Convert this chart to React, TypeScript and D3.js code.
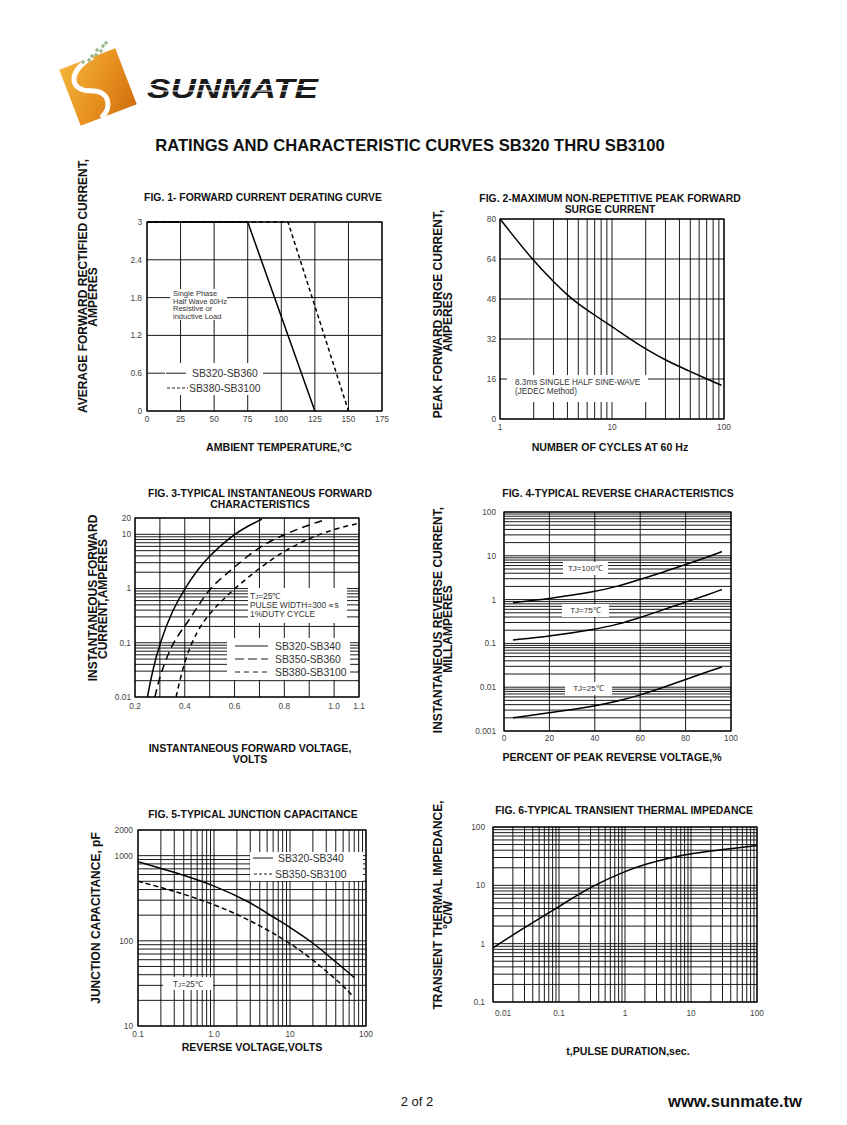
import * as d3 from 'd3';

const FONT = '"Liberation Sans", Arial, Helvetica, sans-serif';

type Pt = [number, number];
type Box = { left: number; right: number; top: number; bottom: number };

// FIG. 1 forward current derating
const f1TempTicks = [0, 25, 50, 75, 100, 125, 150, 175];
const f1AmpTicks = ['0', '0.6', '1.2', '1.8', '2.4', '3'];
const f1Sb320: Pt[] = [[0, 3], [75, 3], [125, 0]];
const f1Sb380: Pt[] = [[0, 3], [105, 3], [150, 0]];

// FIG. 2 peak forward surge current
const f2CycleLabels = ['1', '10', '100'];
const f2AmpTicks = ['0', '16', '32', '48', '64', '80'];
const f2Surge: Pt[] = [
  [1, 80], [2, 63], [3, 55], [4, 49.5], [5, 46], [7, 41.5], [10, 37], [15, 31.5],
  [20, 28], [30, 23.5], [50, 19], [70, 16], [95, 13.5],
];

// FIG. 3 instantaneous forward characteristics
const f3VoltTicks = [0.2, 0.3, 0.4, 0.5, 0.6, 0.7, 0.8, 0.9, 1.0, 1.1];
const f3VoltLabels = ['0.2', '0.4', '0.6', '0.8', '1.0', '1.1'];
const f3AmpLabels = ['0.01', '0.1', '1', '10', '20'];
const f3Sb320: Pt[] = [
  [0.25, 0.01], [0.27, 0.03], [0.3, 0.1], [0.35, 0.4], [0.4, 1], [0.45, 2.2],
  [0.5, 4], [0.55, 6.5], [0.6, 10], [0.65, 14], [0.71, 19],
];
const f3Sb350: Pt[] = [
  [0.28, 0.01], [0.3, 0.025], [0.35, 0.1], [0.4, 0.2], [0.45, 0.45], [0.5, 1],
  [0.55, 1.6], [0.6, 2.5], [0.7, 6], [0.8, 10], [0.9, 15], [0.97, 19],
];
const f3Sb380: Pt[] = [
  [0.365, 0.01], [0.4, 0.05], [0.45, 0.17], [0.5, 0.35], [0.55, 0.6], [0.6, 1],
  [0.7, 2.4], [0.8, 5], [0.9, 8.5], [1.0, 12.5], [1.1, 16],
];

// FIG. 4 reverse characteristics
const f4PctTicks = ['0', '20', '40', '60', '80', '100'];
const f4CurrLabels = ['0.001', '0.01', '0.1', '1', '10', '100'];
const f4Tj100: Pt[] = [[4, 0.85], [20, 1.05], [40, 1.5], [50, 2.0], [60, 2.9], [70, 4.2], [80, 6.3], [90, 9.5], [96, 12.5]];
const f4Tj75: Pt[] = [[4, 0.12], [20, 0.145], [40, 0.21], [50, 0.27], [60, 0.39], [70, 0.58], [80, 0.88], [90, 1.3], [96, 1.7]];
const f4Tj25: Pt[] = [[4, 0.002], [20, 0.0026], [40, 0.0037], [50, 0.0048], [60, 0.0066], [70, 0.0098], [80, 0.015], [90, 0.023], [96, 0.029]];

// FIG. 5 junction capacitance
const f5VoltLabels = ['0.1', '1.0', '10', '100'];
const f5CapLabels = ['10', '100', '1000', '2000'];
const f5Sb320: Pt[] = [[0.1, 850], [0.3, 640], [1, 450], [3, 285], [6, 190], [10, 145], [20, 95], [30, 70], [50, 48], [70, 37]];
const f5Sb350: Pt[] = [[0.1, 500], [0.3, 385], [1, 270], [3, 175], [10, 95], [20, 60], [50, 30], [65, 23]];

// FIG. 6 transient thermal impedance
const f6TimeLabels = ['0.01', '0.1', '1', '10', '100'];
const f6ImpLabels = ['0.1', '1', '10', '100'];
const f6Imp: Pt[] = [[0.01, 0.85], [0.03, 1.9], [0.1, 4.3], [0.3, 9.5], [1, 17.5], [2, 23], [5, 30], [10, 35], [30, 41], [100, 48]];

const TICK = 8.3;

const Grid = ({ box, xs, ys }: { box: Box; xs: number[]; ys: number[] }) => (
  <g stroke="#000" strokeWidth={0.9} fill="none">
    {xs.map((x, i) => <line key={'v' + i} x1={x} x2={x} y1={box.top} y2={box.bottom} />)}
    {ys.map((y, i) => <line key={'h' + i} x1={box.left} x2={box.right} y1={y} y2={y} />)}
    <rect x={box.left} y={box.top} width={box.right - box.left} height={box.bottom - box.top} strokeWidth={1.2} />
  </g>
);

const Curve = ({ pts, sx, sy, dash, linear }: { pts: Pt[]; sx: any; sy: any; dash?: string; linear?: boolean }) => {
  const gen = d3.line<Pt>()
    .x(d => sx(d[0]))
    .y(d => sy(d[1]))
    .curve(linear ? d3.curveLinear : d3.curveBasis);
  return <path d={gen(pts) || ''} fill="none" stroke="#000" strokeWidth={1.5} strokeDasharray={dash} />;
};

const YLabels = ({ labels, sy, x }: { labels: string[]; sy: any; x: number }) => (
  <g fontSize={TICK} fill="#444" textAnchor="end">
    {labels.map(l => <text key={l} x={x} y={sy(+l)} dy="0.35em">{l}</text>)}
  </g>
);

const XLabels = ({ labels, sx, y, firstStart }: { labels: string[]; sx: any; y: number; firstStart?: boolean }) => (
  <g fontSize={TICK} fill="#444" textAnchor="middle">
    {labels.map((l, i) => (
      <text key={l} x={sx(+l) + (firstStart && i === 0 ? 2 : 0)} y={y}
        textAnchor={firstStart && i === 0 ? 'start' : 'middle'}>{l}</text>
    ))}
  </g>
);

const Bold = ({ x, y, size = 10.6, children }: { x: number; y: number; size?: number; children: any }) => (
  <text x={x} y={y} fontSize={size} fontWeight="bold" textAnchor="middle" fill="#111">{children}</text>
);

const VTitle = ({ x, y, size = 12, children }: { x: number; y: number; size?: number; children: any }) => (
  <text transform={`translate(${x},${y}) rotate(-90)`} fontSize={size} fontWeight="bold" textAnchor="middle" fill="#111">{children}</text>
);

const Mask = ({ x, y, w, h }: { x: number; y: number; w: number; h: number }) => (
  <rect x={x} y={y} width={w} height={h} fill="#fff" />
);

const FIGT = 10.4;

function Fig1() {
  const box = { left: 147, right: 382, top: 222, bottom: 411 };
  const sx = d3.scaleLinear().domain([0, 175]).range([box.left, box.right]);
  const sy = d3.scaleLinear().domain([0, 3]).range([box.bottom, box.top]);
  return (
    <g>
      <Bold x={263} y={201} size={FIGT}>FIG. 1- FORWARD CURRENT DERATING CURVE</Bold>
      <Grid box={box} xs={f1TempTicks.map(sx)} ys={f1AmpTicks.map(v => sy(+v))} />
      <Mask x={170} y={289} w={57} h={31} />
      <g fontSize={7.5} fill="#333">
        <text x={173} y={296}>Single Phase</text>
        <text x={173} y={303.5}>Half Wave 60Hz</text>
        <text x={173} y={311}>Resistive or</text>
        <text x={173} y={318.5}>inductive Load</text>
      </g>
      <Mask x={165} y={363} w={98} h={32} />
      <line x1={166} x2={186} y1={sy(0.6)} y2={sy(0.6)} stroke="#000" strokeWidth={0.9} />
      <line x1={167} x2={188} y1={388} y2={388} stroke="#000" strokeWidth={0.9} strokeDasharray="3,2" />
      <g fontSize={10.4} fill="#333">
        <text x={192} y={sy(0.6) + 3.8}>SB320-SB360</text>
        <text x={189} y={391.8}>SB380-SB3100</text>
      </g>
      <Curve pts={f1Sb380} sx={sx} sy={sy} dash="4,3" linear />
      <Curve pts={f1Sb320} sx={sx} sy={sy} linear />
      <YLabels labels={f1AmpTicks} sy={sy} x={box.left - 5} />
      <XLabels labels={f1TempTicks.map(String)} sx={sx} y={422} />
      <Bold x={279} y={451}>AMBIENT TEMPERATURE,°C</Bold>
      <VTitle x={87} y={286}>AVERAGE FORWARD RECTIFIED CURRENT,</VTitle>
      <VTitle x={97} y={297}>AMPERES</VTitle>
    </g>
  );
}

function Fig2() {
  const box = { left: 500, right: 724, top: 219, bottom: 419 };
  const sx = d3.scaleLog().domain([1, 100]).range([box.left, box.right]);
  const sy = d3.scaleLinear().domain([0, 80]).range([box.bottom, box.top]);
  return (
    <g>
      <Bold x={610} y={202} size={FIGT}>FIG. 2-MAXIMUM NON-REPETITIVE PEAK FORWARD</Bold>
      <Bold x={610} y={212.5} size={FIGT}>SURGE CURRENT</Bold>
      <Grid box={box} xs={sx.ticks().map(sx)} ys={f2AmpTicks.map(v => sy(+v))} />
      <Mask x={507} y={375} w={141} h={27} />
      <g fontSize={8.2} fill="#333">
        <text x={515} y={385}>8.3ms SINGLE HALF SINE-WAVE</text>
        <text x={515} y={394}>(JEDEC Method)</text>
      </g>
      <Curve pts={f2Surge} sx={sx} sy={sy} />
      <YLabels labels={f2AmpTicks} sy={sy} x={box.left - 4} />
      <XLabels labels={f2CycleLabels} sx={sx} y={430} />
      <Bold x={610} y={451}>NUMBER OF CYCLES AT 60 Hz</Bold>
      <VTitle x={442} y={314}>PEAK  FORWARD SURGE CURRENT,</VTitle>
      <VTitle x={452} y={322}>AMPERES</VTitle>
    </g>
  );
}

function Fig3() {
  const box = { left: 135, right: 359, top: 518, bottom: 697 };
  const sx = d3.scaleLinear().domain([0.2, 1.1]).range([box.left, box.right]);
  const sy = d3.scaleLog().domain([0.01, 20]).range([box.bottom, box.top]);
  return (
    <g>
      <Bold x={260} y={497} size={FIGT}>FIG. 3-TYPICAL INSTANTANEOUS FORWARD</Bold>
      <Bold x={260} y={508} size={FIGT}>CHARACTERISTICS</Bold>
      <Grid box={box} xs={f3VoltTicks.map(sx)} ys={sy.ticks().map(sy)} />
      <Mask x={248} y={588} w={99} h={35} />
      <g fontSize={8.4} fill="#333">
        <text x={250} y={599}>T<tspan fontSize={6}>J</tspan>=25℃</text>
        <text x={250} y={608}>PULSE WIDTH=300 ∝s</text>
        <text x={250} y={617}>1%DUTY CYCLE</text>
      </g>
      <Mask x={227} y={638} w={123} h={42} />
      <Mask x={350} y={665} w={8} h={12} />
      <g stroke="#000" strokeWidth={0.9}>
        <line x1={235} x2={268} y1={646} y2={646} />
        <line x1={235} x2={268} y1={659} y2={659} strokeDasharray="9,4" />
        <line x1={235} x2={268} y1={672} y2={672} strokeDasharray="5,4" />
      </g>
      <g fontSize={10.4} fill="#333">
        <text x={275} y={649.8}>SB320-SB340</text>
        <text x={275} y={662.8}>SB350-SB360</text>
        <text x={275} y={675.8}>SB380-SB3100</text>
      </g>
      <line x1={350} x2={359} y1={672} y2={672} stroke="#000" strokeWidth={0.9} />
      <Curve pts={f3Sb380} sx={sx} sy={sy} dash="5,4" />
      <Curve pts={f3Sb350} sx={sx} sy={sy} dash="8,5" />
      <Curve pts={f3Sb320} sx={sx} sy={sy} />
      <YLabels labels={f3AmpLabels} sy={sy} x={box.left - 4} />
      <XLabels labels={f3VoltLabels} sx={sx} y={709} />
      <Bold x={250} y={752}>INSTANTANEOUS FORWARD VOLTAGE,</Bold>
      <Bold x={250} y={763}>VOLTS</Bold>
      <VTitle x={97} y={598}>INSTANTANEOUS FORWARD</VTitle>
      <VTitle x={107} y={599}>CURRENT,AMPERES</VTitle>
    </g>
  );
}

function Fig4() {
  const box = { left: 504, right: 731, top: 512, bottom: 731 };
  const sx = d3.scaleLinear().domain([0, 100]).range([box.left, box.right]);
  const sy = d3.scaleLog().domain([0.001, 100]).range([box.bottom, box.top]);
  const tag = (x: number, y: number, w: number, label: string) => (
    <g>
      <Mask x={x} y={y} w={w} h={13} />
      <text x={x + w / 2} y={y + 9.3} fontSize={8.1} fill="#333" textAnchor="middle">{label}</text>
    </g>
  );
  return (
    <g>
      <Bold x={618} y={497} size={FIGT}>FIG. 4-TYPICAL REVERSE CHARACTERISTICS</Bold>
      <Grid box={box} xs={f4PctTicks.map(v => sx(+v))} ys={sy.ticks().map(sy)} />
      {tag(563, 562, 45, 'TJ=100℃')}
      {tag(562, 604, 47, 'TJ=75℃')}
      {tag(565, 682, 47, 'TJ=25℃')}
      <Curve pts={f4Tj100} sx={sx} sy={sy} />
      <Curve pts={f4Tj75} sx={sx} sy={sy} />
      <Curve pts={f4Tj25} sx={sx} sy={sy} />
      <YLabels labels={f4CurrLabels} sy={sy} x={box.left - 8} />
      <XLabels labels={f4PctTicks} sx={sx} y={741} />
      <Bold x={612} y={761}>PERCENT OF PEAK REVERSE VOLTAGE,%</Bold>
      <VTitle x={442} y={620}>INSTANTANEOUS REVERSE CURRENT,</VTitle>
      <VTitle x={452} y={629}>MILLAMPERES</VTitle>
    </g>
  );
}

function Fig5() {
  const box = { left: 138, right: 366, top: 830, bottom: 1026 };
  const sx = d3.scaleLog().domain([0.1, 100]).range([box.left, box.right]);
  const sy = d3.scaleLog().domain([10, 2000]).range([box.bottom, box.top]);
  return (
    <g>
      <Bold x={253} y={818} size={FIGT}>FIG. 5-TYPICAL JUNCTION CAPACITANCE</Bold>
      <Grid box={box} xs={sx.ticks().map(sx)} ys={sy.ticks().map(sy)} />
      <Mask x={250} y={852} w={113} h={29} />
      <line x1={253} x2={273} y1={858} y2={858} stroke="#000" strokeWidth={0.9} />
      <line x1={254} x2={274} y1={874} y2={874} stroke="#000" strokeWidth={0.9} strokeDasharray="3,2" />
      <g fontSize={10.4} fill="#333">
        <text x={278} y={861.8}>SB320-SB340</text>
        <text x={275} y={877.8}>SB350-SB3100</text>
      </g>
      <Mask x={163} y={977} w={50} h={13} />
      <text x={173} y={986.5} fontSize={8.2} fill="#333">T<tspan fontSize={6}>J</tspan>=25℃</text>
      <Curve pts={f5Sb350} sx={sx} sy={sy} dash="5,3" />
      <Curve pts={f5Sb320} sx={sx} sy={sy} />
      <YLabels labels={f5CapLabels} sy={sy} x={box.left - 5} />
      <XLabels labels={f5VoltLabels} sx={sx} y={1037} />
      <Bold x={252} y={1051}>REVERSE VOLTAGE,VOLTS</Bold>
      <VTitle x={100} y={918}>JUNCTION CAPACITANCE, pF</VTitle>
    </g>
  );
}

function Fig6() {
  const box = { left: 493, right: 757, top: 827, bottom: 1002 };
  const sx = d3.scaleLog().domain([0.01, 100]).range([box.left, box.right]);
  const sy = d3.scaleLog().domain([0.1, 100]).range([box.bottom, box.top]);
  return (
    <g>
      <Bold x={624} y={814} size={FIGT}>FIG. 6-TYPICAL TRANSIENT THERMAL IMPEDANCE</Bold>
      <Grid box={box} xs={sx.ticks().map(sx)} ys={sy.ticks().map(sy)} />
      <Curve pts={f6Imp} sx={sx} sy={sy} />
      <YLabels labels={f6ImpLabels} sy={sy} x={box.left - 8} />
      <XLabels labels={f6TimeLabels} sx={sx} y={1016} firstStart />
      <Bold x={628} y={1055}>t,PULSE DURATION,sec.</Bold>
      <VTitle x={442} y={905}>TRANSIENT THERMAL IMPEDANCE,</VTitle>
      <VTitle x={452} y={915}>°C/W</VTitle>
    </g>
  );
}

function Logo() {
  const dots: Pt[] = [[83, 62], [89, 60], [92, 56], [96, 55], [97, 50], [101, 51], [103, 46], [106, 43]];
  return (
    <g>
      <defs>
        <linearGradient id="logoFill" x1="0" y1="0" x2="1" y2="1">
          <stop offset="0" stopColor="#f4b43a" />
          <stop offset="0.6" stopColor="#e58c1c" />
          <stop offset="1" stopColor="#cf6f10" />
        </linearGradient>
      </defs>
      <g transform="translate(98,87) rotate(-21)">
        <rect x={-30} y={-30} width={60} height={60} fill="url(#logoFill)" />
        <path d="M 6,-30 C -24,-26 -28,-6 -8,1 C 10,8 6,24 -8,30" fill="none" stroke="#fff" strokeWidth={5} />
      </g>
      {dots.map((d, i) => <rect key={i} x={d[0] - 1.6} y={d[1] - 1.6} width={3.2} height={3.2} fill="#9cb88a" transform={`rotate(45 ${d[0]} ${d[1]})`} />)}
      <text x={147} y={98} fontSize={27} fontWeight={900} fontStyle="italic" textLength={171} lengthAdjust="spacingAndGlyphs" fill="#1a1a1a">SUNMATE</text>
      <line x1={145} x2={320} y1={84.5} y2={84.5} stroke="#fff" strokeWidth={1} />
      <line x1={145} x2={320} y1={91} y2={91} stroke="#fff" strokeWidth={1} />
    </g>
  );
}

export default function App() {
  return (
    <svg width={847} height={1125} viewBox="0 0 847 1125"
      style={{ position: 'absolute', left: 0, top: 0, background: '#fff' }} fontFamily={FONT}>
      <rect width={847} height={1125} fill="#fff" />
      <Logo />
      <text x={410} y={151} fontSize={16.6} fontWeight="bold" textAnchor="middle" fill="#111">
        RATINGS AND CHARACTERISTIC CURVES SB320 THRU SB3100
      </text>
      <Fig1 />
      <Fig2 />
      <Fig3 />
      <Fig4 />
      <Fig5 />
      <Fig6 />
      <text x={417} y={1106} fontSize={13} textAnchor="middle" fill="#111">2 of 2</text>
      <text x={802} y={1107} fontSize={16.6} fontWeight="bold" textAnchor="end" fill="#111">www.sunmate.tw</text>
    </svg>
  );
}
